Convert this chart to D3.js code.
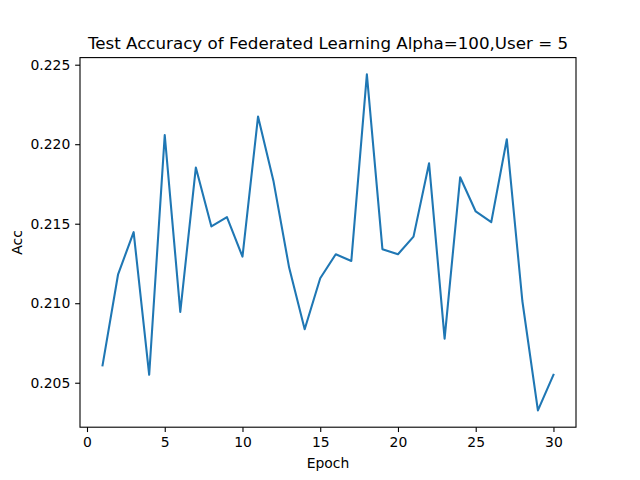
<!DOCTYPE html>
<html>
<head>
<meta charset="UTF-8">
<title>Test Accuracy of Federated Learning</title>
<script src="https://d3js.org/d3.v7.min.js"></script>
<style>
  body { margin: 0; background: #fff; font-family: 'DejaVu Sans', sans-serif; }
  svg text { fill: #000; }
</style>
</head>
<body>
<svg id="chart" width="640" height="480"></svg>
<script>
  // epochs and accuracy
  const epochs = d3.range(1, 31);
  const acc = [
    0.20609, 0.21182, 0.21447, 0.20550, 0.22058, 0.20945, 0.21853, 0.21483, 0.21542, 0.21293,
    0.22174, 0.21765, 0.21224, 0.20836, 0.21157, 0.21308, 0.21266, 0.22439, 0.21340, 0.21308,
    0.21419, 0.21880, 0.20777, 0.21792, 0.21577, 0.21510, 0.22031, 0.21014, 0.20326, 0.20550
  ];
  const xTicks = [0, 5, 10, 15, 20, 25, 30];
  const yTicks = [0.205, 0.210, 0.215, 0.220, 0.225];

  const axLeft = 80, axRight = 576, axTop = 57.6, axBottom = 427.2;

  // matplotlib style 5% margins
  const xExt = d3.extent(epochs), yExt = d3.extent(acc);
  const xPad = (xExt[1] - xExt[0]) * 0.05, yPad = (yExt[1] - yExt[0]) * 0.05;
  const x = d3.scaleLinear().domain([xExt[0] - xPad, xExt[1] + xPad]).range([axLeft, axRight]);
  const y = d3.scaleLinear().domain([yExt[0] - yPad, yExt[1] + yPad]).range([axBottom, axTop]);

  const svg = d3.select("#chart");

  const line = d3.line()
    .x((d, i) => x(epochs[i]))
    .y(d => y(d));

  svg.append("path")
    .datum(acc)
    .attr("d", line)
    .attr("fill", "none")
    .attr("stroke", "#1f77b4")
    .attr("stroke-width", 2.08)
    .attr("stroke-linejoin", "round")
    .attr("stroke-linecap", "square");

  // axes
  const xAxis = d3.axisBottom(x).tickValues(xTicks).tickSize(4.86).tickPadding(4.86).tickFormat(d3.format("d"));
  const yAxis = d3.axisLeft(y).tickValues(yTicks).tickSize(4.86).tickPadding(4.86).tickFormat(d3.format(".3f"));

  const gx = svg.append("g").attr("transform", `translate(0,${axBottom})`).call(xAxis);
  const gy = svg.append("g").attr("transform", `translate(${axLeft},0)`).call(yAxis);
  [gx, gy].forEach(g => {
    g.select(".domain").remove();
    g.selectAll(".tick line").attr("stroke", "#000").attr("stroke-width", 1.1);
    g.selectAll(".tick text").attr("font-size", "13.9px").attr("font-family", "DejaVu Sans").attr("fill", "#000");
  });

  // frame
  svg.append("rect")
    .attr("x", axLeft).attr("y", axTop)
    .attr("width", axRight - axLeft).attr("height", axBottom - axTop)
    .attr("fill", "none").attr("stroke", "#000").attr("stroke-width", 1.1);

  svg.append("text")
    .attr("x", (axLeft + axRight) / 2).attr("y", axTop - 8.5)
    .attr("text-anchor", "middle")
    .attr("font-size", "16.7px")
    .text("Test Accuracy of Federated Learning Alpha=100,User = 5");

  svg.append("text")
    .attr("x", (axLeft + axRight) / 2).attr("y", 468)
    .attr("text-anchor", "middle")
    .attr("font-size", "13.9px")
    .text("Epoch");

  svg.append("text")
    .attr("transform", `translate(22,${(axTop + axBottom) / 2}) rotate(-90)`)
    .attr("text-anchor", "middle")
    .attr("font-size", "13.9px")
    .text("Acc");
</script>
</body>
</html>
